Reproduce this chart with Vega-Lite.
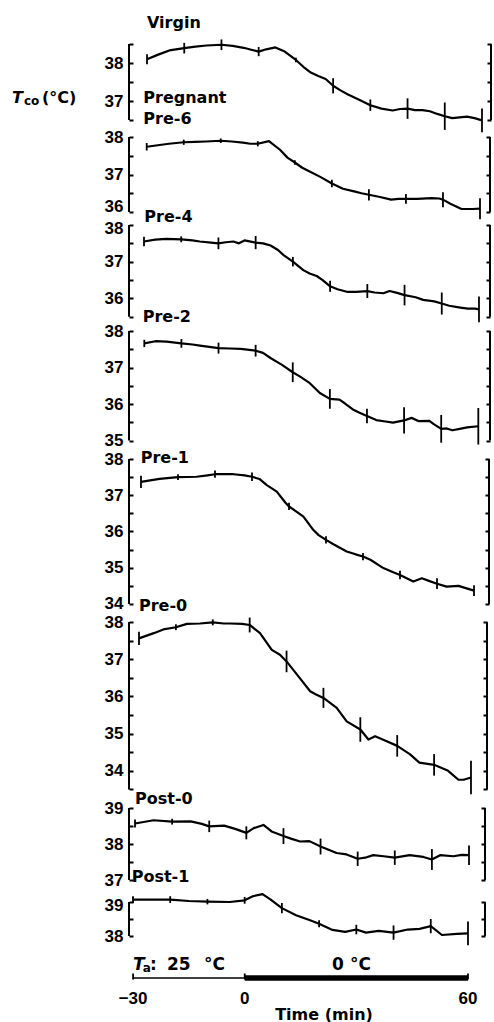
{
  "$schema": "https://vega.github.io/schema/vega-lite/v6.json",
  "padding": {"left": 12, "top": 14, "right": 0, "bottom": 6},
  "bounds": "flush",
  "spacing": 0,
  "datasets": {
    "lines": [
      {"panel":"Virgin","t":-30,"T":38.10},{"panel":"Virgin","t":-27,"T":38.22},{"panel":"Virgin","t":-24,"T":38.33},{"panel":"Virgin","t":-20,"T":38.39},{"panel":"Virgin","t":-17,"T":38.43},{"panel":"Virgin","t":-14,"T":38.46},{"panel":"Virgin","t":-10,"T":38.48},{"panel":"Virgin","t":-7,"T":38.45},{"panel":"Virgin","t":-4,"T":38.40},{"panel":"Virgin","t":-2,"T":38.35},{"panel":"Virgin","t":0,"T":38.30},{"panel":"Virgin","t":2,"T":38.36},{"panel":"Virgin","t":4.5,"T":38.41},{"panel":"Virgin","t":7,"T":38.30},{"panel":"Virgin","t":10,"T":38.08},{"panel":"Virgin","t":12,"T":37.90},{"panel":"Virgin","t":14,"T":37.75},{"panel":"Virgin","t":16,"T":37.66},{"panel":"Virgin","t":18,"T":37.58},{"panel":"Virgin","t":20,"T":37.40},{"panel":"Virgin","t":22,"T":37.28},{"panel":"Virgin","t":24,"T":37.17},{"panel":"Virgin","t":27,"T":37.03},{"panel":"Virgin","t":30,"T":36.89},{"panel":"Virgin","t":33,"T":36.80},{"panel":"Virgin","t":36,"T":36.75},{"panel":"Virgin","t":38,"T":36.79},{"panel":"Virgin","t":40,"T":36.80},{"panel":"Virgin","t":42,"T":36.76},{"panel":"Virgin","t":44,"T":36.76},{"panel":"Virgin","t":46,"T":36.73},{"panel":"Virgin","t":48,"T":36.66},{"panel":"Virgin","t":50,"T":36.60},{"panel":"Virgin","t":52,"T":36.55},{"panel":"Virgin","t":54,"T":36.57},{"panel":"Virgin","t":56,"T":36.59},{"panel":"Virgin","t":58,"T":36.55},{"panel":"Virgin","t":60,"T":36.49},
      {"panel":"Pre-6","t":-30,"T":37.74},{"panel":"Pre-6","t":-27,"T":37.78},{"panel":"Pre-6","t":-24,"T":37.82},{"panel":"Pre-6","t":-20,"T":37.86},{"panel":"Pre-6","t":-17,"T":37.87},{"panel":"Pre-6","t":-14,"T":37.88},{"panel":"Pre-6","t":-10,"T":37.90},{"panel":"Pre-6","t":-7,"T":37.88},{"panel":"Pre-6","t":-4,"T":37.85},{"panel":"Pre-6","t":-2,"T":37.82},{"panel":"Pre-6","t":0,"T":37.82},{"panel":"Pre-6","t":3,"T":37.89},{"panel":"Pre-6","t":6,"T":37.66},{"panel":"Pre-6","t":8,"T":37.45},{"panel":"Pre-6","t":10,"T":37.32},{"panel":"Pre-6","t":12,"T":37.18},{"panel":"Pre-6","t":14,"T":37.08},{"panel":"Pre-6","t":17,"T":36.93},{"panel":"Pre-6","t":20,"T":36.76},{"panel":"Pre-6","t":23,"T":36.62},{"panel":"Pre-6","t":26,"T":36.55},{"panel":"Pre-6","t":28,"T":36.50},{"panel":"Pre-6","t":30,"T":36.46},{"panel":"Pre-6","t":33,"T":36.40},{"panel":"Pre-6","t":36,"T":36.33},{"panel":"Pre-6","t":38,"T":36.35},{"panel":"Pre-6","t":40,"T":36.35},{"panel":"Pre-6","t":43,"T":36.35},{"panel":"Pre-6","t":47,"T":36.37},{"panel":"Pre-6","t":49,"T":36.36},{"panel":"Pre-6","t":50,"T":36.33},{"panel":"Pre-6","t":52,"T":36.22},{"panel":"Pre-6","t":55,"T":36.08},{"panel":"Pre-6","t":58,"T":36.08},{"panel":"Pre-6","t":60,"T":36.09},
      {"panel":"Pre-4","t":-30,"T":37.55},{"panel":"Pre-4","t":-27,"T":37.60},{"panel":"Pre-4","t":-24,"T":37.62},{"panel":"Pre-4","t":-20,"T":37.61},{"panel":"Pre-4","t":-17,"T":37.58},{"panel":"Pre-4","t":-15,"T":37.55},{"panel":"Pre-4","t":-12,"T":37.52},{"panel":"Pre-4","t":-10,"T":37.50},{"panel":"Pre-4","t":-8,"T":37.53},{"panel":"Pre-4","t":-6,"T":37.55},{"panel":"Pre-4","t":-4.5,"T":37.50},{"panel":"Pre-4","t":-3,"T":37.58},{"panel":"Pre-4","t":0,"T":37.52},{"panel":"Pre-4","t":2,"T":37.50},{"panel":"Pre-4","t":4,"T":37.44},{"panel":"Pre-4","t":6,"T":37.32},{"panel":"Pre-4","t":7.5,"T":37.18},{"panel":"Pre-4","t":10,"T":37.00},{"panel":"Pre-4","t":12.8,"T":36.77},{"panel":"Pre-4","t":14.5,"T":36.68},{"panel":"Pre-4","t":16.4,"T":36.61},{"panel":"Pre-4","t":18,"T":36.50},{"panel":"Pre-4","t":20,"T":36.33},{"panel":"Pre-4","t":22,"T":36.25},{"panel":"Pre-4","t":24.5,"T":36.18},{"panel":"Pre-4","t":27,"T":36.18},{"panel":"Pre-4","t":30,"T":36.20},{"panel":"Pre-4","t":32,"T":36.16},{"panel":"Pre-4","t":34.3,"T":36.14},{"panel":"Pre-4","t":36,"T":36.20},{"panel":"Pre-4","t":38,"T":36.15},{"panel":"Pre-4","t":40,"T":36.09},{"panel":"Pre-4","t":43,"T":36.03},{"panel":"Pre-4","t":45,"T":35.96},{"panel":"Pre-4","t":48,"T":35.92},{"panel":"Pre-4","t":50,"T":35.86},{"panel":"Pre-4","t":52,"T":35.80},{"panel":"Pre-4","t":55,"T":35.75},{"panel":"Pre-4","t":57,"T":35.72},{"panel":"Pre-4","t":59,"T":35.72},{"panel":"Pre-4","t":60,"T":35.70},
      {"panel":"Pre-2","t":-30,"T":37.66},{"panel":"Pre-2","t":-27,"T":37.72},{"panel":"Pre-2","t":-24,"T":37.71},{"panel":"Pre-2","t":-20,"T":37.66},{"panel":"Pre-2","t":-17,"T":37.63},{"panel":"Pre-2","t":-15,"T":37.60},{"panel":"Pre-2","t":-12,"T":37.56},{"panel":"Pre-2","t":-10,"T":37.53},{"panel":"Pre-2","t":-7,"T":37.52},{"panel":"Pre-2","t":-4,"T":37.51},{"panel":"Pre-2","t":0,"T":37.46},{"panel":"Pre-2","t":2,"T":37.40},{"panel":"Pre-2","t":4,"T":37.26},{"panel":"Pre-2","t":7,"T":37.08},{"panel":"Pre-2","t":10,"T":36.87},{"panel":"Pre-2","t":12,"T":36.75},{"panel":"Pre-2","t":14.6,"T":36.57},{"panel":"Pre-2","t":17.3,"T":36.30},{"panel":"Pre-2","t":20,"T":36.14},{"panel":"Pre-2","t":22.6,"T":36.12},{"panel":"Pre-2","t":24,"T":36.02},{"panel":"Pre-2","t":26.2,"T":35.85},{"panel":"Pre-2","t":28,"T":35.76},{"panel":"Pre-2","t":30,"T":35.67},{"panel":"Pre-2","t":32.5,"T":35.56},{"panel":"Pre-2","t":35,"T":35.52},{"panel":"Pre-2","t":37,"T":35.49},{"panel":"Pre-2","t":40,"T":35.55},{"panel":"Pre-2","t":42,"T":35.62},{"panel":"Pre-2","t":44,"T":35.53},{"panel":"Pre-2","t":46.8,"T":35.54},{"panel":"Pre-2","t":48,"T":35.45},{"panel":"Pre-2","t":50,"T":35.32},{"panel":"Pre-2","t":51.5,"T":35.33},{"panel":"Pre-2","t":53,"T":35.28},{"panel":"Pre-2","t":55,"T":35.32},{"panel":"Pre-2","t":57,"T":35.36},{"panel":"Pre-2","t":60,"T":35.39},
      {"panel":"Pre-1","t":-30,"T":37.37},{"panel":"Pre-1","t":-25,"T":37.45},{"panel":"Pre-1","t":-20,"T":37.50},{"panel":"Pre-1","t":-15,"T":37.51},{"panel":"Pre-1","t":-12,"T":37.55},{"panel":"Pre-1","t":-10,"T":37.58},{"panel":"Pre-1","t":-5,"T":37.58},{"panel":"Pre-1","t":-2,"T":37.55},{"panel":"Pre-1","t":0,"T":37.51},{"panel":"Pre-1","t":2,"T":37.45},{"panel":"Pre-1","t":4,"T":37.28},{"panel":"Pre-1","t":6.7,"T":37.10},{"panel":"Pre-1","t":9,"T":36.80},{"panel":"Pre-1","t":10,"T":36.69},{"panel":"Pre-1","t":12,"T":36.55},{"panel":"Pre-1","t":13.9,"T":36.41},{"panel":"Pre-1","t":16.6,"T":36.04},{"panel":"Pre-1","t":18,"T":35.90},{"panel":"Pre-1","t":20,"T":35.77},{"panel":"Pre-1","t":22,"T":35.65},{"panel":"Pre-1","t":25.6,"T":35.45},{"panel":"Pre-1","t":28,"T":35.37},{"panel":"Pre-1","t":30,"T":35.31},{"panel":"Pre-1","t":32,"T":35.22},{"panel":"Pre-1","t":35.5,"T":34.99},{"panel":"Pre-1","t":38,"T":34.88},{"panel":"Pre-1","t":40,"T":34.80},{"panel":"Pre-1","t":43.6,"T":34.62},{"panel":"Pre-1","t":45.9,"T":34.71},{"panel":"Pre-1","t":48,"T":34.63},{"panel":"Pre-1","t":50,"T":34.56},{"panel":"Pre-1","t":52.6,"T":34.48},{"panel":"Pre-1","t":55.8,"T":34.50},{"panel":"Pre-1","t":58,"T":34.43},{"panel":"Pre-1","t":60,"T":34.37},
      {"panel":"Pre-0","t":-30,"T":37.56},{"panel":"Pre-0","t":-26,"T":37.70},{"panel":"Pre-0","t":-23.4,"T":37.80},{"panel":"Pre-0","t":-20,"T":37.86},{"panel":"Pre-0","t":-17,"T":37.95},{"panel":"Pre-0","t":-13.5,"T":37.96},{"panel":"Pre-0","t":-10,"T":37.99},{"panel":"Pre-0","t":-7,"T":37.96},{"panel":"Pre-0","t":-5.3,"T":37.96},{"panel":"Pre-0","t":-2,"T":37.95},{"panel":"Pre-0","t":0,"T":37.92},{"panel":"Pre-0","t":2.8,"T":37.70},{"panel":"Pre-0","t":6,"T":37.25},{"panel":"Pre-0","t":8.2,"T":37.12},{"panel":"Pre-0","t":10,"T":36.94},{"panel":"Pre-0","t":13.6,"T":36.49},{"panel":"Pre-0","t":16.4,"T":36.14},{"panel":"Pre-0","t":18,"T":36.05},{"panel":"Pre-0","t":20,"T":35.96},{"panel":"Pre-0","t":23.6,"T":35.69},{"panel":"Pre-0","t":26.3,"T":35.33},{"panel":"Pre-0","t":30,"T":35.11},{"panel":"Pre-0","t":32.2,"T":34.84},{"panel":"Pre-0","t":34,"T":34.93},{"panel":"Pre-0","t":37,"T":34.80},{"panel":"Pre-0","t":40,"T":34.67},{"panel":"Pre-0","t":43.5,"T":34.44},{"panel":"Pre-0","t":46,"T":34.22},{"panel":"Pre-0","t":50,"T":34.16},{"panel":"Pre-0","t":53.8,"T":34.00},{"panel":"Pre-0","t":56.6,"T":33.76},{"panel":"Pre-0","t":58,"T":33.76},{"panel":"Pre-0","t":60,"T":33.82},
      {"panel":"Post-0","t":-30,"T":38.57},{"panel":"Post-0","t":-25,"T":38.66},{"panel":"Post-0","t":-20,"T":38.62},{"panel":"Post-0","t":-15,"T":38.63},{"panel":"Post-0","t":-12,"T":38.56},{"panel":"Post-0","t":-10,"T":38.49},{"panel":"Post-0","t":-6,"T":38.51},{"panel":"Post-0","t":-3,"T":38.42},{"panel":"Post-0","t":0,"T":38.31},{"panel":"Post-0","t":2,"T":38.44},{"panel":"Post-0","t":4.6,"T":38.53},{"panel":"Post-0","t":6.8,"T":38.35},{"panel":"Post-0","t":10,"T":38.22},{"panel":"Post-0","t":12,"T":38.15},{"panel":"Post-0","t":14.5,"T":38.07},{"panel":"Post-0","t":17,"T":38.08},{"panel":"Post-0","t":20,"T":37.93},{"panel":"Post-0","t":22,"T":37.85},{"panel":"Post-0","t":24.3,"T":37.75},{"panel":"Post-0","t":27,"T":37.71},{"panel":"Post-0","t":30,"T":37.59},{"panel":"Post-0","t":32,"T":37.62},{"panel":"Post-0","t":34.2,"T":37.69},{"panel":"Post-0","t":37,"T":37.66},{"panel":"Post-0","t":40,"T":37.62},{"panel":"Post-0","t":44,"T":37.69},{"panel":"Post-0","t":47.7,"T":37.64},{"panel":"Post-0","t":50,"T":37.57},{"panel":"Post-0","t":52.2,"T":37.69},{"panel":"Post-0","t":55.8,"T":37.66},{"panel":"Post-0","t":58,"T":37.70},{"panel":"Post-0","t":60,"T":37.69},
      {"panel":"Post-1","t":-30,"T":39.07},{"panel":"Post-1","t":-20,"T":39.07},{"panel":"Post-1","t":-15,"T":39.03},{"panel":"Post-1","t":-10,"T":39.01},{"panel":"Post-1","t":-4,"T":39.00},{"panel":"Post-1","t":0,"T":39.05},{"panel":"Post-1","t":2.2,"T":39.17},{"panel":"Post-1","t":4.8,"T":39.23},{"panel":"Post-1","t":7,"T":39.07},{"panel":"Post-1","t":10,"T":38.82},{"panel":"Post-1","t":13.8,"T":38.61},{"panel":"Post-1","t":17.4,"T":38.47},{"panel":"Post-1","t":20,"T":38.36},{"panel":"Post-1","t":23.6,"T":38.18},{"panel":"Post-1","t":27,"T":38.12},{"panel":"Post-1","t":30,"T":38.19},{"panel":"Post-1","t":32.6,"T":38.10},{"panel":"Post-1","t":36,"T":38.15},{"panel":"Post-1","t":40,"T":38.10},{"panel":"Post-1","t":43.8,"T":38.19},{"panel":"Post-1","t":47,"T":38.21},{"panel":"Post-1","t":50,"T":38.29},{"panel":"Post-1","t":53,"T":38.03},{"panel":"Post-1","t":57,"T":38.06},{"panel":"Post-1","t":60,"T":38.08}
    ],
    "bars": [
      {"panel":"Virgin","t":-30,"lo":37.97,"hi":38.23},{"panel":"Virgin","t":-20,"lo":38.25,"hi":38.53},{"panel":"Virgin","t":-10,"lo":38.34,"hi":38.62},{"panel":"Virgin","t":0,"lo":38.18,"hi":38.42},{"panel":"Virgin","t":10,"lo":38.02,"hi":38.14},{"panel":"Virgin","t":20,"lo":37.20,"hi":37.60},{"panel":"Virgin","t":30,"lo":36.74,"hi":37.04},{"panel":"Virgin","t":40,"lo":36.53,"hi":37.07},{"panel":"Virgin","t":50,"lo":36.24,"hi":36.96},{"panel":"Virgin","t":60,"lo":36.18,"hi":36.80},
      {"panel":"Pre-6","t":-30,"lo":37.64,"hi":37.84},{"panel":"Pre-6","t":-20,"lo":37.79,"hi":37.93},{"panel":"Pre-6","t":-10,"lo":37.84,"hi":37.96},{"panel":"Pre-6","t":0,"lo":37.75,"hi":37.89},{"panel":"Pre-6","t":10,"lo":37.26,"hi":37.38},{"panel":"Pre-6","t":20,"lo":36.66,"hi":36.86},{"panel":"Pre-6","t":30,"lo":36.31,"hi":36.61},{"panel":"Pre-6","t":40,"lo":36.22,"hi":36.48},{"panel":"Pre-6","t":50,"lo":36.13,"hi":36.53},{"panel":"Pre-6","t":60,"lo":35.81,"hi":36.37},
      {"panel":"Pre-4","t":-30,"lo":37.42,"hi":37.68},{"panel":"Pre-4","t":-20,"lo":37.53,"hi":37.69},{"panel":"Pre-4","t":-10,"lo":37.34,"hi":37.66},{"panel":"Pre-4","t":0,"lo":37.34,"hi":37.70},{"panel":"Pre-4","t":10,"lo":36.87,"hi":37.13},{"panel":"Pre-4","t":20,"lo":36.18,"hi":36.48},{"panel":"Pre-4","t":30,"lo":36.01,"hi":36.39},{"panel":"Pre-4","t":40,"lo":35.81,"hi":36.37},{"panel":"Pre-4","t":50,"lo":35.56,"hi":36.16},{"panel":"Pre-4","t":60,"lo":35.35,"hi":36.05},
      {"panel":"Pre-2","t":-30,"lo":37.56,"hi":37.76},{"panel":"Pre-2","t":-20,"lo":37.54,"hi":37.78},{"panel":"Pre-2","t":-10,"lo":37.38,"hi":37.68},{"panel":"Pre-2","t":0,"lo":37.30,"hi":37.62},{"panel":"Pre-2","t":10,"lo":36.60,"hi":37.14},{"panel":"Pre-2","t":20,"lo":35.87,"hi":36.41},{"panel":"Pre-2","t":30,"lo":35.47,"hi":35.87},{"panel":"Pre-2","t":40,"lo":35.19,"hi":35.91},{"panel":"Pre-2","t":50,"lo":34.94,"hi":35.70},{"panel":"Pre-2","t":60,"lo":34.89,"hi":35.89},
      {"panel":"Pre-1","t":-30,"lo":37.20,"hi":37.54},{"panel":"Pre-1","t":-20,"lo":37.42,"hi":37.58},{"panel":"Pre-1","t":-10,"lo":37.48,"hi":37.68},{"panel":"Pre-1","t":0,"lo":37.39,"hi":37.63},{"panel":"Pre-1","t":10,"lo":36.59,"hi":36.79},{"panel":"Pre-1","t":20,"lo":35.67,"hi":35.87},{"panel":"Pre-1","t":30,"lo":35.21,"hi":35.41},{"panel":"Pre-1","t":40,"lo":34.68,"hi":34.92},{"panel":"Pre-1","t":50,"lo":34.41,"hi":34.71},{"panel":"Pre-1","t":60,"lo":34.22,"hi":34.52},
      {"panel":"Pre-0","t":-30,"lo":37.38,"hi":37.74},{"panel":"Pre-0","t":-20,"lo":37.78,"hi":37.94},{"panel":"Pre-0","t":-10,"lo":37.91,"hi":38.07},{"panel":"Pre-0","t":0,"lo":37.72,"hi":38.12},{"panel":"Pre-0","t":10,"lo":36.65,"hi":37.23},{"panel":"Pre-0","t":20,"lo":35.69,"hi":36.23},{"panel":"Pre-0","t":30,"lo":34.78,"hi":35.44},{"panel":"Pre-0","t":40,"lo":34.38,"hi":34.96},{"panel":"Pre-0","t":50,"lo":33.87,"hi":34.45},{"panel":"Pre-0","t":60,"lo":33.37,"hi":34.27},
      {"panel":"Post-0","t":-30,"lo":38.46,"hi":38.68},{"panel":"Post-0","t":-20,"lo":38.54,"hi":38.70},{"panel":"Post-0","t":-10,"lo":38.33,"hi":38.65},{"panel":"Post-0","t":0,"lo":38.13,"hi":38.49},{"panel":"Post-0","t":10,"lo":38.00,"hi":38.44},{"panel":"Post-0","t":20,"lo":37.71,"hi":38.15},{"panel":"Post-0","t":30,"lo":37.39,"hi":37.79},{"panel":"Post-0","t":40,"lo":37.42,"hi":37.82},{"panel":"Post-0","t":50,"lo":37.28,"hi":37.86},{"panel":"Post-0","t":60,"lo":37.42,"hi":37.96},
      {"panel":"Post-1","t":-30,"lo":38.97,"hi":39.17},{"panel":"Post-1","t":-20,"lo":38.97,"hi":39.17},{"panel":"Post-1","t":-10,"lo":38.93,"hi":39.09},{"panel":"Post-1","t":0,"lo":38.95,"hi":39.15},{"panel":"Post-1","t":10,"lo":38.67,"hi":38.97},{"panel":"Post-1","t":20,"lo":38.26,"hi":38.46},{"panel":"Post-1","t":30,"lo":38.05,"hi":38.33},{"panel":"Post-1","t":40,"lo":37.89,"hi":38.31},{"panel":"Post-1","t":50,"lo":38.08,"hi":38.50},{"panel":"Post-1","t":60,"lo":37.73,"hi":38.43}
    ]
  },
  "vconcat": [
    {
      "width": 362, "height": 92.5,
      "layer": [
        {"data": {"name": "lines"}, "transform": [{"filter": "datum.panel === 'Virgin'"}],
         "mark": {"type": "line", "color": "black", "strokeWidth": 2.2, "strokeJoin": "round"},
         "encoding": {
           "x": {"field": "t", "type": "quantitative", "scale": {"domain": [-34.84, 62.42], "nice": false, "zero": false}, "axis": null},
           "y": {"field": "T", "type": "quantitative", "scale": {"domain": [36.066, 38.5], "nice": false, "zero": false},
                 "axis": {"orient": "left", "domain": false, "values": [36.5, 37, 37.5, 38, 38.5], "labelExpr": "datum.value % 1 === 0 ? format(datum.value, 'd') : ''", "title": null}}}},
        {"data": {"name": "bars"}, "transform": [{"filter": "datum.panel === 'Virgin'"}],
         "mark": {"type": "rule", "color": "black", "strokeWidth": 1.8},
         "encoding": {
           "x": {"field": "t", "type": "quantitative", "axis": null},
           "y": {"field": "lo", "type": "quantitative", "axis": {"orient": "right", "domain": false, "values": [36.5, 37, 37.5, 38, 38.5], "labels": false, "title": null}},
           "y2": {"field": "hi"}}},
        {"data": {"values": [{}]}, "mark": {"type": "rule", "color": "black", "strokeWidth": 2},
         "encoding": {"x": {"datum": -34.84, "type": "quantitative", "axis": null}, "y": {"datum": 36.5, "type": "quantitative", "axis": null}, "y2": {"datum": 38.5}}},
        {"data": {"values": [{}]}, "mark": {"type": "rule", "color": "black", "strokeWidth": 2},
         "encoding": {"x": {"datum": 62.42, "type": "quantitative", "axis": null}, "y": {"datum": 36.5, "type": "quantitative", "axis": null}, "y2": {"datum": 38.5}}},
        {"data": {"values": [{}]}, "mark": {"type": "text", "text": "Virgin", "align": "left", "baseline": "middle"},
         "encoding": {"x": {"datum": -30, "type": "quantitative", "axis": null}, "y": {"datum": 39.06, "type": "quantitative", "axis": null}}},
        {"data": {"values": [{}]}, "mark": {"type": "text", "text": "T", "align": "left", "baseline": "middle", "fontStyle": "italic", "fontSize": 16},
         "encoding": {"x": {"datum": -66.27, "type": "quantitative", "axis": null}, "y": {"datum": 37.087, "type": "quantitative", "axis": null}}},
        {"data": {"values": [{}]}, "mark": {"type": "text", "text": "co", "align": "left", "baseline": "middle", "fontSize": 12},
         "encoding": {"x": {"datum": -63.05, "type": "quantitative", "axis": null}, "y": {"datum": 37.0, "type": "quantitative", "axis": null}}},
        {"data": {"values": [{}]}, "mark": {"type": "text", "text": "(°C)", "align": "left", "baseline": "middle"},
         "encoding": {"x": {"datum": -58.21, "type": "quantitative", "axis": null}, "y": {"datum": 37.087, "type": "quantitative", "axis": null}}}
      ],
      "resolve": {"axis": {"y": "independent"}}
    },
    {
      "width": 361, "height": 87.8,
      "layer": [
        {"data": {"name": "lines"}, "transform": [{"filter": "datum.panel === 'Pre-6'"}],
         "mark": {"type": "line", "color": "black", "strokeWidth": 2.2, "strokeJoin": "round"},
         "encoding": {
           "x": {"field": "t", "type": "quantitative", "scale": {"domain": [-34.78, 62.7], "nice": false, "zero": false}, "axis": null},
           "y": {"field": "T", "type": "quantitative", "scale": {"domain": [35.659, 38], "nice": false, "zero": false},
                 "axis": {"orient": "left", "domain": false, "values": [36, 36.5, 37, 37.5, 38], "labelExpr": "datum.value % 1 === 0 ? format(datum.value, 'd') : ''", "labelOffset": {"condition": {"test": "datum.value === 36", "value": -6}, "value": 0}, "title": null}}}},
        {"data": {"name": "bars"}, "transform": [{"filter": "datum.panel === 'Pre-6'"}],
         "mark": {"type": "rule", "color": "black", "strokeWidth": 1.8},
         "encoding": {
           "x": {"field": "t", "type": "quantitative", "axis": null},
           "y": {"field": "lo", "type": "quantitative", "axis": {"orient": "right", "domain": false, "values": [36, 36.5, 37, 37.5, 38], "labels": false, "title": null}},
           "y2": {"field": "hi"}}},
        {"data": {"values": [{}]}, "mark": {"type": "rule", "color": "black", "strokeWidth": 2},
         "encoding": {"x": {"datum": -34.78, "type": "quantitative", "axis": null}, "y": {"datum": 36, "type": "quantitative", "axis": null}, "y2": {"datum": 38}}},
        {"data": {"values": [{}]}, "mark": {"type": "rule", "color": "black", "strokeWidth": 2},
         "encoding": {"x": {"datum": 62.7, "type": "quantitative", "axis": null}, "y": {"datum": 36, "type": "quantitative", "axis": null}, "y2": {"datum": 38}}},
        {"data": {"values": [{}]}, "mark": {"type": "text", "text": "Pregnant", "align": "left", "baseline": "middle"},
         "encoding": {"x": {"datum": -30.92, "type": "quantitative", "axis": null}, "y": {"datum": 39.035, "type": "quantitative", "axis": null}}},
        {"data": {"values": [{}]}, "mark": {"type": "text", "text": "Pre-6", "align": "left", "baseline": "middle"},
         "encoding": {"x": {"datum": -30.92, "type": "quantitative", "axis": null}, "y": {"datum": 38.485, "type": "quantitative", "axis": null}}}
      ],
      "resolve": {"axis": {"y": "independent"}}
    },
    {
      "width": 361, "height": 105.5,
      "layer": [
        {"data": {"name": "lines"}, "transform": [{"filter": "datum.panel === 'Pre-4'"}],
         "mark": {"type": "line", "color": "black", "strokeWidth": 2.2, "strokeJoin": "round"},
         "encoding": {
           "x": {"field": "t", "type": "quantitative", "scale": {"domain": [-34.03, 62.96], "nice": false, "zero": false}, "axis": null},
           "y": {"field": "T", "type": "quantitative", "scale": {"domain": [35.125, 38], "nice": false, "zero": false},
                 "axis": {"orient": "left", "domain": false, "values": [35.5, 36, 36.5, 37, 37.5, 38], "labelExpr": "datum.value % 1 === 0 ? format(datum.value, 'd') : ''", "labelOffset": {"condition": {"test": "datum.value === 38", "value": 3}, "value": 0}, "title": null}}}},
        {"data": {"name": "bars"}, "transform": [{"filter": "datum.panel === 'Pre-4'"}],
         "mark": {"type": "rule", "color": "black", "strokeWidth": 1.8},
         "encoding": {
           "x": {"field": "t", "type": "quantitative", "axis": null},
           "y": {"field": "lo", "type": "quantitative", "axis": {"orient": "right", "domain": false, "values": [35.5, 36, 36.5, 37, 37.5, 38], "labels": false, "title": null}},
           "y2": {"field": "hi"}}},
        {"data": {"values": [{}]}, "mark": {"type": "rule", "color": "black", "strokeWidth": 2},
         "encoding": {"x": {"datum": -34.03, "type": "quantitative", "axis": null}, "y": {"datum": 35.5, "type": "quantitative", "axis": null}, "y2": {"datum": 38}}},
        {"data": {"values": [{}]}, "mark": {"type": "rule", "color": "black", "strokeWidth": 2},
         "encoding": {"x": {"datum": 62.96, "type": "quantitative", "axis": null}, "y": {"datum": 35.5, "type": "quantitative", "axis": null}, "y2": {"datum": 38}}},
        {"data": {"values": [{}]}, "mark": {"type": "text", "text": "Pre-4", "align": "left", "baseline": "middle"},
         "encoding": {"x": {"datum": -29.92, "type": "quantitative", "axis": null}, "y": {"datum": 38.226, "type": "quantitative", "axis": null}}}
      ],
      "resolve": {"axis": {"y": "independent"}}
    },
    {
      "width": 361, "height": 127.5,
      "layer": [
        {"data": {"name": "lines"}, "transform": [{"filter": "datum.panel === 'Pre-2'"}],
         "mark": {"type": "line", "color": "black", "strokeWidth": 2.2, "strokeJoin": "round"},
         "encoding": {
           "x": {"field": "t", "type": "quantitative", "scale": {"domain": [-34.12, 63.15], "nice": false, "zero": false}, "axis": null},
           "y": {"field": "T", "type": "quantitative", "scale": {"domain": [34.507, 38], "nice": false, "zero": false},
                 "axis": {"orient": "left", "domain": false, "values": [35, 35.5, 36, 36.5, 37, 37.5, 38], "labelExpr": "datum.value % 1 === 0 ? format(datum.value, 'd') : ''", "title": null}}}},
        {"data": {"name": "bars"}, "transform": [{"filter": "datum.panel === 'Pre-2'"}],
         "mark": {"type": "rule", "color": "black", "strokeWidth": 1.8},
         "encoding": {
           "x": {"field": "t", "type": "quantitative", "axis": null},
           "y": {"field": "lo", "type": "quantitative", "axis": {"orient": "right", "domain": false, "values": [35, 35.5, 36, 36.5, 37, 37.5, 38], "labels": false, "title": null}},
           "y2": {"field": "hi"}}},
        {"data": {"values": [{}]}, "mark": {"type": "rule", "color": "black", "strokeWidth": 2},
         "encoding": {"x": {"datum": -34.12, "type": "quantitative", "axis": null}, "y": {"datum": 35, "type": "quantitative", "axis": null}, "y2": {"datum": 38}}},
        {"data": {"values": [{}]}, "mark": {"type": "rule", "color": "black", "strokeWidth": 2},
         "encoding": {"x": {"datum": 63.15, "type": "quantitative", "axis": null}, "y": {"datum": 35, "type": "quantitative", "axis": null}, "y2": {"datum": 38}}},
        {"data": {"values": [{}]}, "mark": {"type": "text", "text": "Pre-2", "align": "left", "baseline": "middle"},
         "encoding": {"x": {"datum": -30.43, "type": "quantitative", "axis": null}, "y": {"datum": 38.378, "type": "quantitative", "axis": null}}}
      ],
      "resolve": {"axis": {"y": "independent"}}
    },
    {
      "width": 360, "height": 163,
      "layer": [
        {"data": {"name": "lines"}, "transform": [{"filter": "datum.panel === 'Pre-1'"}],
         "mark": {"type": "line", "color": "black", "strokeWidth": 2.2, "strokeJoin": "round"},
         "encoding": {
           "x": {"field": "t", "type": "quantitative", "scale": {"domain": [-33.24, 64.05], "nice": false, "zero": false}, "axis": null},
           "y": {"field": "T", "type": "quantitative", "scale": {"domain": [33.503, 38], "nice": false, "zero": false},
                 "axis": {"orient": "left", "domain": false, "values": [34, 34.5, 35, 35.5, 36, 36.5, 37, 37.5, 38], "labelExpr": "datum.value % 1 === 0 ? format(datum.value, 'd') : ''", "title": null}}}},
        {"data": {"name": "bars"}, "transform": [{"filter": "datum.panel === 'Pre-1'"}],
         "mark": {"type": "rule", "color": "black", "strokeWidth": 1.8},
         "encoding": {
           "x": {"field": "t", "type": "quantitative", "axis": null},
           "y": {"field": "lo", "type": "quantitative", "axis": {"orient": "right", "domain": false, "values": [34, 34.5, 35, 35.5, 36, 36.5, 37, 37.5, 38], "labels": false, "title": null}},
           "y2": {"field": "hi"}}},
        {"data": {"values": [{}]}, "mark": {"type": "rule", "color": "black", "strokeWidth": 2},
         "encoding": {"x": {"datum": -33.24, "type": "quantitative", "axis": null}, "y": {"datum": 34, "type": "quantitative", "axis": null}, "y2": {"datum": 38}}},
        {"data": {"values": [{}]}, "mark": {"type": "rule", "color": "black", "strokeWidth": 2},
         "encoding": {"x": {"datum": 64.05, "type": "quantitative", "axis": null}, "y": {"datum": 34, "type": "quantitative", "axis": null}, "y2": {"datum": 38}}},
        {"data": {"values": [{}]}, "mark": {"type": "text", "text": "Pre-1", "align": "left", "baseline": "middle"},
         "encoding": {"x": {"datum": -30.08, "type": "quantitative", "axis": null}, "y": {"datum": 38.02, "type": "quantitative", "axis": null}}}
      ],
      "resolve": {"axis": {"y": "independent"}}
    },
    {
      "width": 358, "height": 186,
      "layer": [
        {"data": {"name": "lines"}, "transform": [{"filter": "datum.panel === 'Pre-0'"}],
         "mark": {"type": "line", "color": "black", "strokeWidth": 2.2, "strokeJoin": "round"},
         "encoding": {
           "x": {"field": "t", "type": "quantitative", "scale": {"domain": [-32.71, 64.34], "nice": false, "zero": false}, "axis": null},
           "y": {"field": "T", "type": "quantitative", "scale": {"domain": [33.0, 38], "nice": false, "zero": false},
                 "axis": {"orient": "left", "domain": false, "values": [33.5, 34, 34.5, 35, 35.5, 36, 36.5, 37, 37.5, 38], "labelExpr": "datum.value % 1 === 0 ? format(datum.value, 'd') : ''", "title": null}}}},
        {"data": {"name": "bars"}, "transform": [{"filter": "datum.panel === 'Pre-0'"}],
         "mark": {"type": "rule", "color": "black", "strokeWidth": 1.8},
         "encoding": {
           "x": {"field": "t", "type": "quantitative", "axis": null},
           "y": {"field": "lo", "type": "quantitative", "axis": {"orient": "right", "domain": false, "values": [33.5, 34, 34.5, 35, 35.5, 36, 36.5, 37, 37.5, 38], "labels": false, "title": null}},
           "y2": {"field": "hi"}}},
        {"data": {"values": [{}]}, "mark": {"type": "rule", "color": "black", "strokeWidth": 2},
         "encoding": {"x": {"datum": -32.71, "type": "quantitative", "axis": null}, "y": {"datum": 33.5, "type": "quantitative", "axis": null}, "y2": {"datum": 38}}},
        {"data": {"values": [{}]}, "mark": {"type": "rule", "color": "black", "strokeWidth": 2},
         "encoding": {"x": {"datum": 64.34, "type": "quantitative", "axis": null}, "y": {"datum": 33.5, "type": "quantitative", "axis": null}, "y2": {"datum": 38}}},
        {"data": {"values": [{}]}, "mark": {"type": "text", "text": "Pre-0", "align": "left", "baseline": "middle"},
         "encoding": {"x": {"datum": -30.0, "type": "quantitative", "axis": null}, "y": {"datum": 38.417, "type": "quantitative", "axis": null}}}
      ],
      "resolve": {"axis": {"y": "independent"}}
    },
    {
      "width": 356, "height": 93.5,
      "layer": [
        {"data": {"name": "lines"}, "transform": [{"filter": "datum.panel === 'Post-0'"}],
         "mark": {"type": "line", "color": "black", "strokeWidth": 2.2, "strokeJoin": "round"},
         "encoding": {
           "x": {"field": "t", "type": "quantitative", "scale": {"domain": [-31.62, 64.31], "nice": false, "zero": false}, "axis": null},
           "y": {"field": "T", "type": "quantitative", "scale": {"domain": [36.403, 39], "nice": false, "zero": false},
                 "axis": {"orient": "left", "domain": false, "values": [37, 37.5, 38, 38.5, 39], "labelExpr": "datum.value % 1 === 0 ? format(datum.value, 'd') : ''", "title": null}}}},
        {"data": {"name": "bars"}, "transform": [{"filter": "datum.panel === 'Post-0'"}],
         "mark": {"type": "rule", "color": "black", "strokeWidth": 1.8},
         "encoding": {
           "x": {"field": "t", "type": "quantitative", "axis": null},
           "y": {"field": "lo", "type": "quantitative", "axis": {"orient": "right", "domain": false, "values": [37, 37.5, 38, 38.5, 39], "labels": false, "title": null}},
           "y2": {"field": "hi"}}},
        {"data": {"values": [{}]}, "mark": {"type": "rule", "color": "black", "strokeWidth": 2},
         "encoding": {"x": {"datum": -31.62, "type": "quantitative", "axis": null}, "y": {"datum": 37, "type": "quantitative", "axis": null}, "y2": {"datum": 39}}},
        {"data": {"values": [{}]}, "mark": {"type": "rule", "color": "black", "strokeWidth": 2},
         "encoding": {"x": {"datum": 64.31, "type": "quantitative", "axis": null}, "y": {"datum": 37, "type": "quantitative", "axis": null}, "y2": {"datum": 39}}},
        {"data": {"values": [{}]}, "mark": {"type": "text", "text": "Post-0", "align": "left", "baseline": "middle"},
         "encoding": {"x": {"datum": -30.0, "type": "quantitative", "axis": null}, "y": {"datum": 39.258, "type": "quantitative", "axis": null}}}
      ],
      "resolve": {"axis": {"y": "independent"}}
    },
    {
      "width": 356, "height": 45.2,
      "layer": [
        {"data": {"name": "lines"}, "transform": [{"filter": "datum.panel === 'Post-1'"}],
         "mark": {"type": "line", "color": "black", "strokeWidth": 2.2, "strokeJoin": "round"},
         "encoding": {
           "x": {"field": "t", "type": "quantitative", "scale": {"domain": [-31.07, 64.57], "nice": false, "zero": false}, "axis": null},
           "y": {"field": "T", "type": "quantitative", "scale": {"domain": [37.671, 39], "nice": false, "zero": false},
                 "axis": {"orient": "left", "domain": false, "values": [38, 38.5, 39], "labelExpr": "datum.value % 1 === 0 ? format(datum.value, 'd') : ''", "labelOffset": {"condition": {"test": "datum.value === 39", "value": 3}, "value": 0}, "title": null}}}},
        {"data": {"name": "bars"}, "transform": [{"filter": "datum.panel === 'Post-1'"}],
         "mark": {"type": "rule", "color": "black", "strokeWidth": 1.8},
         "encoding": {
           "x": {"field": "t", "type": "quantitative", "axis": null},
           "y": {"field": "lo", "type": "quantitative", "axis": {"orient": "right", "domain": false, "values": [38, 38.5, 39], "labels": false, "title": null}},
           "y2": {"field": "hi"}}},
        {"data": {"values": [{}]}, "mark": {"type": "rule", "color": "black", "strokeWidth": 2},
         "encoding": {"x": {"datum": -31.07, "type": "quantitative", "axis": null}, "y": {"datum": 38, "type": "quantitative", "axis": null}, "y2": {"datum": 39}}},
        {"data": {"values": [{}]}, "mark": {"type": "rule", "color": "black", "strokeWidth": 2},
         "encoding": {"x": {"datum": 64.57, "type": "quantitative", "axis": null}, "y": {"datum": 38, "type": "quantitative", "axis": null}, "y2": {"datum": 39}}},
        {"data": {"values": [{}]}, "mark": {"type": "text", "text": "Post-1", "align": "left", "baseline": "middle"},
         "encoding": {"x": {"datum": -30.34, "type": "quantitative", "axis": null}, "y": {"datum": 39.744, "type": "quantitative", "axis": null}}}
      ],
      "resolve": {"axis": {"y": "independent"}}
    },
    {
      "width": 356, "height": 30,
      "layer": [
        {"data": {"values": [{"t": -30}, {"t": 0}, {"t": 60}]},
         "mark": {"type": "rule", "color": "black", "strokeWidth": 1.8},
         "encoding": {
           "x": {"field": "t", "type": "quantitative", "scale": {"domain": [-31.1, 64.57], "nice": false, "zero": false}, "axis": null},
           "y": {"datum": -0.05, "type": "quantitative", "scale": {"domain": [0, 1], "nice": false, "zero": false}, "axis": null},
           "y2": {"datum": 0.15}}},
        {"data": {"values": [{"t": -30, "lab": "−30"}, {"t": 0, "lab": "0"}, {"t": 60, "lab": "60"}]},
         "mark": {"type": "text", "align": "center", "baseline": "middle", "font": "Liberation Sans", "fontSize": 17},
         "encoding": {
           "x": {"field": "t", "type": "quantitative", "axis": null},
           "y": {"datum": -0.69, "type": "quantitative", "axis": null},
           "text": {"field": "lab"}}},
        {"data": {"values": [{}]}, "mark": {"type": "text", "text": "Time (min)", "align": "center", "baseline": "middle"},
         "encoding": {"x": {"datum": 21.31, "type": "quantitative", "axis": null}, "y": {"datum": -1.22, "type": "quantitative", "axis": null}}},
        {"data": {"values": [{}]}, "mark": {"type": "rule", "color": "black", "strokeWidth": 1.6},
         "encoding": {"x": {"datum": -30, "type": "quantitative", "axis": null}, "x2": {"datum": 0}, "y": {"datum": 0, "type": "quantitative", "axis": null}}},
        {"data": {"values": [{}]}, "mark": {"type": "rule", "color": "black", "strokeWidth": 5.5},
         "encoding": {"x": {"datum": 0, "type": "quantitative", "axis": null}, "x2": {"datum": 60}, "y": {"datum": 0, "type": "quantitative", "axis": null}}},
        {"data": {"values": [{}]}, "mark": {"type": "text", "text": "T", "align": "left", "baseline": "middle", "fontStyle": "italic", "fontSize": 17},
         "encoding": {"x": {"datum": -30, "type": "quantitative", "axis": null}, "y": {"datum": 0.433, "type": "quantitative", "axis": null}}},
        {"data": {"values": [{}]}, "mark": {"type": "text", "text": "a", "align": "left", "baseline": "middle", "fontSize": 12},
         "encoding": {"x": {"datum": -27.4, "type": "quantitative", "axis": null}, "y": {"datum": 0.32, "type": "quantitative", "axis": null}}},
        {"data": {"values": [{}]}, "mark": {"type": "text", "text": ":", "align": "left", "baseline": "middle", "fontSize": 17},
         "encoding": {"x": {"datum": -25.46, "type": "quantitative", "axis": null}, "y": {"datum": 0.433, "type": "quantitative", "axis": null}}},
        {"data": {"values": [{}]}, "mark": {"type": "text", "text": "25", "align": "left", "baseline": "middle", "fontSize": 17},
         "encoding": {"x": {"datum": -20.89, "type": "quantitative", "axis": null}, "y": {"datum": 0.433, "type": "quantitative", "axis": null}}},
        {"data": {"values": [{}]}, "mark": {"type": "text", "text": "°C", "align": "left", "baseline": "middle", "fontSize": 17},
         "encoding": {"x": {"datum": -10.94, "type": "quantitative", "axis": null}, "y": {"datum": 0.433, "type": "quantitative", "axis": null}}},
        {"data": {"values": [{}]}, "mark": {"type": "text", "text": "0", "align": "left", "baseline": "middle", "fontSize": 17},
         "encoding": {"x": {"datum": 23.46, "type": "quantitative", "axis": null}, "y": {"datum": 0.433, "type": "quantitative", "axis": null}}},
        {"data": {"values": [{}]}, "mark": {"type": "text", "text": "°C", "align": "left", "baseline": "middle", "fontSize": 17},
         "encoding": {"x": {"datum": 28.29, "type": "quantitative", "axis": null}, "y": {"datum": 0.433, "type": "quantitative", "axis": null}}}
      ]
    }
  ],
  "config": {
    "view": {"stroke": null},
    "axis": {
      "domainColor": "black", "tickColor": "black", "labelColor": "black", "titleColor": "black",
      "domainWidth": 2, "tickWidth": 2, "tickSize": -4, "labelPadding": 10, "grid": false,
      "labelFont": "Liberation Sans", "labelFontWeight": "bold", "labelFontSize": 17,
      "labelOverlap": false, "labelFlush": false,
      "titleFont": "DejaVu Sans", "titleFontWeight": "bold", "titleFontSize": 16
    },
    "text": {"font": "DejaVu Sans", "fontWeight": "bold", "fontSize": 16, "color": "black"}
  }
}
